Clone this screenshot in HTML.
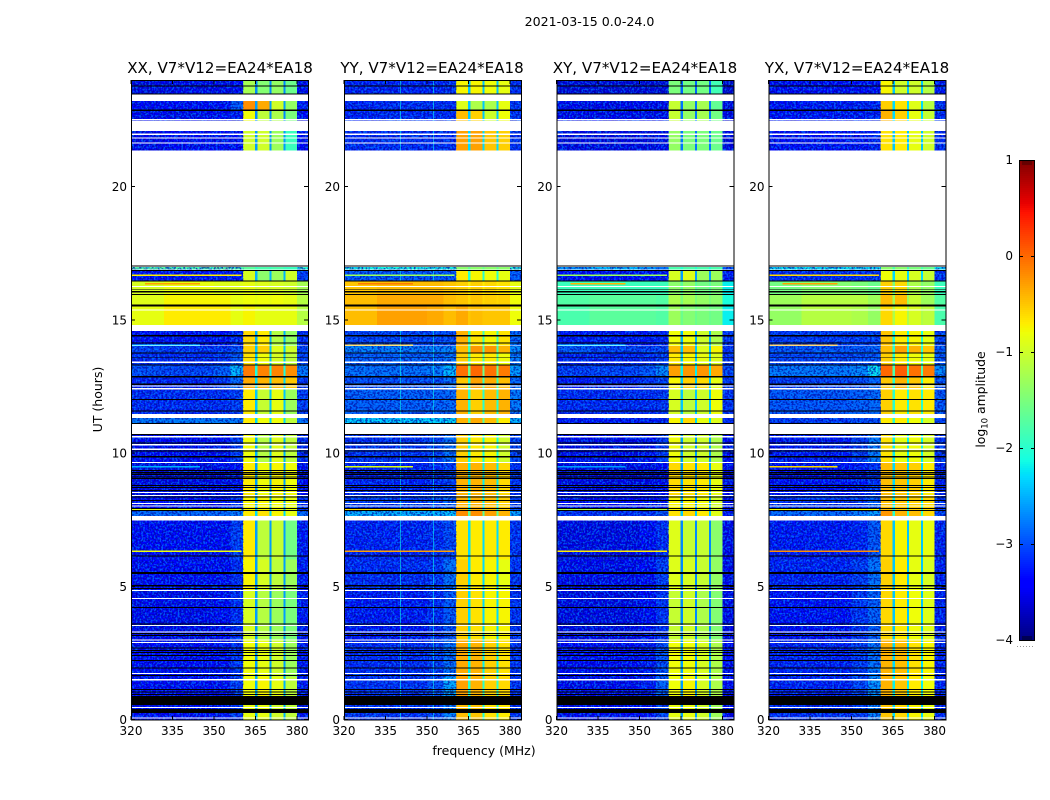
<!DOCTYPE html>
<html lang="en">
<head>
<meta charset="utf-8">
<title>2021-03-15 0.0-24.0</title>
<style>
html,body{margin:0;padding:0;background:#fff;width:1050px;height:800px;overflow:hidden}
svg{display:block}
text{font-family:"DejaVu Sans","Liberation Sans",sans-serif;fill:#000}
.tick{font-size:12px}
.title{font-size:15.1px;text-anchor:middle}
</style>
</head>
<body>
<svg id="figure" xmlns="http://www.w3.org/2000/svg" width="1050" height="800" viewBox="0 0 1050 800">
  <defs>
    <filter id="speckle-light" x="0" y="0" width="100%" height="100%" color-interpolation-filters="sRGB">
      <feTurbulence type="fractalNoise" baseFrequency="0.55 0.45" numOctaves="1" seed="4"/>
      <feColorMatrix type="matrix" values="0 0 0 0 0  0 0 0 0 0.55  0 0 0 0 1  0 0 0 9 -4.3"/>
    </filter>
    <filter id="speckle-dark" x="0" y="0" width="100%" height="100%" color-interpolation-filters="sRGB">
      <feTurbulence type="fractalNoise" baseFrequency="0.5 0.55" numOctaves="1" seed="11"/>
      <feColorMatrix type="matrix" values="0 0 0 0 0  0 0 0 0 0  0 0 0 0 0.6  0 0 0 9 -4.3"/>
    </filter>
  </defs>
  <text x="589.5" y="26" font-size="12.6" text-anchor="middle">2021-03-15 0.0-24.0</text>
  <g id="panel-0">
    <text class="title" x="220" y="73">XX, V7*V12=EA24*EA18</text>
  </g>
  <g id="panel-1">
    <text class="title" x="432" y="73">YY, V7*V12=EA24*EA18</text>
  </g>
  <g id="panel-2">
    <text class="title" x="645" y="73">XY, V7*V12=EA24*EA18</text>
  </g>
  <g id="panel-3">
    <text class="title" x="857" y="73">YX, V7*V12=EA24*EA18</text>
  </g>
  <text font-size="12.5" text-anchor="middle" transform="translate(102,399.5) rotate(-90)">UT (hours)</text>
  <text x="484" y="755" font-size="12.5" text-anchor="middle">frequency (MHz)</text>
  <g id="colorbar"></g>
  <text font-size="12.4" text-anchor="middle" transform="translate(985,399.5) rotate(-90)">log<tspan font-size="8.5" dy="2.5">10</tspan><tspan dy="-2.5"> amplitude</tspan></text>
</svg>
<script>
// ---- Categories: frequency channels (MHz) and which level column each uses
const freqEdges = [320, 332, 350, 356, 360.5, 364.9, 365.7, 370, 370.8, 375.2, 375.9, 380, 384];
const freqColumn = [0, 1, 2, 3, 4, 8, 5, 8, 6, 8, 7, 9];

// ---- Categories: scan blocks (UT hours)
const blockStart = [24, 23.2, 22.85, 22.08, 17.04, 16.86, 16.46, 15.96, 15.54, 14.58, 14.04, 13.78, 13.33, 12.86, 12.39, 11.31, 10.71, 9.66, 8.38, 7.84, 7.46, 6, 4.86, 3, 1.6, 0.54];
const blockEnd = [23.46, 22.85, 22.48, 21.36, 16.86, 16.46, 15.96, 15.54, 14.81, 14.04, 13.78, 13.33, 12.86, 12.39, 11.47, 11.09, 9.66, 8.38, 7.84, 7.46, 6, 4.86, 3, 1.6, 0.88, 0];
const loudBlocks = [6, 7, 8];

// ---- Series: log10 amplitude per block, columns: 320-332, 332-350, 350-356, 356-360.5, band1..band4, band gaps, 380-384
const levelsXX = [
[-3.55,-3.5,-3.5,-3.45,-1.25,-1.45,-1.35,-1.6,-2.7,-3.4],
[-3.45,-3.45,-3.35,-2.95,-0.2,-0.35,-1.0,-1.35,-2.6,-3.3],
[-3.5,-3.5,-3.45,-3.3,-0.8,-1.1,-1.2,-1.5,-2.7,-3.4],
[-3.5,-3.45,-3.45,-3.4,-1.0,-1.0,-1.3,-1.9,-2.6,-3.4],
[-1.7,-1.8,-1.7,-1.8,-1.7,-1.8,-1.8,-1.9,-1.9,-2.0],
[-3.35,-3.35,-3.3,-3.3,-0.95,-1.4,-1.3,-1.0,-2.5,-3.1],
[-0.95,-0.85,-0.9,-0.9,-0.85,-0.9,-0.95,-1.0,-1.0,-1.25],
[-0.9,-0.75,-0.75,-0.85,-0.8,-0.8,-0.8,-0.85,-0.85,-1.15],
[-0.85,-0.7,-0.7,-0.85,-0.75,-0.85,-0.85,-0.85,-0.85,-1.15],
[-3.35,-3.35,-3.35,-3.2,-0.6,-0.7,-1.15,-1.35,-2.5,-3.2],
[-3.05,-3.15,-3.15,-3.0,-0.55,-0.55,-0.9,-1.0,-2.4,-3.05],
[-3.2,-3.2,-3.15,-2.95,-0.65,-0.8,-0.95,-1.1,-2.4,-3.05],
[-3.0,-3.05,-2.9,-2.4,-0.1,-0.15,-0.15,-0.2,-2.1,-2.75],
[-3.25,-3.25,-3.15,-2.85,-0.35,-0.4,-0.45,-0.5,-2.3,-3.1],
[-3.2,-3.2,-3.2,-3.1,-0.7,-1.05,-0.85,-1.3,-2.4,-3.1],
[-2.75,-2.75,-2.75,-2.75,-0.7,-0.8,-0.8,-1.1,-2.3,-2.8],
[-3.4,-3.4,-3.35,-3.1,-0.8,-1.15,-0.9,-1.1,-2.5,-3.2],
[-3.55,-3.55,-3.5,-3.35,-0.7,-0.8,-0.75,-0.8,-2.6,-3.4],
[-3.4,-3.4,-3.35,-3.2,-0.75,-0.75,-0.8,-0.85,-2.5,-3.2],
[-2.85,-2.85,-2.85,-2.75,-0.7,-0.65,-0.75,-0.85,-2.3,-2.85],
[-3.45,-3.45,-3.4,-3.1,-0.7,-1.1,-1.05,-1.55,-2.6,-3.3],
[-3.4,-3.4,-3.4,-3.2,-0.75,-0.95,-1.1,-1.3,-2.6,-3.3],
[-3.5,-3.5,-3.4,-3.2,-0.95,-1.15,-1.3,-1.5,-2.6,-3.3],
[-3.45,-3.45,-3.35,-3.15,-0.8,-0.85,-1.0,-1.3,-2.6,-3.3],
[-3.45,-3.45,-3.4,-3.1,-0.8,-0.75,-0.85,-1.1,-2.5,-3.3],
[-3.4,-3.4,-3.3,-3.15,-0.85,-0.85,-1.0,-1.1,-2.5,-3.3]
];
const levelsYY = [
[-3.25,-3.25,-3.25,-3.2,-0.75,-0.75,-0.8,-0.85,-2.4,-3.15],
[-3.25,-3.2,-3.2,-3.2,-0.9,-1.2,-1.2,-0.85,-2.4,-3.15],
[-3.25,-3.2,-3.2,-3.2,-0.45,-0.55,-1.0,-0.8,-2.4,-3.15],
[-3.2,-3.2,-3.2,-3.2,-0.3,-0.3,-0.5,-0.55,-2.3,-3.15],
[-2.1,-2.1,-2.1,-2.1,-1.4,-1.4,-1.4,-1.4,-1.6,-2.0],
[-2.95,-2.95,-2.95,-2.95,-0.7,-0.75,-0.8,-0.85,-2.0,-2.95],
[-0.5,-0.45,-0.45,-0.5,-0.55,-0.55,-0.6,-0.65,-0.7,-0.85],
[-0.45,-0.35,-0.35,-0.45,-0.5,-0.5,-0.55,-0.55,-0.6,-0.8],
[-0.45,-0.3,-0.35,-0.45,-0.35,-0.45,-0.5,-0.5,-0.5,-0.8],
[-3.05,-3.05,-3.05,-3.0,-0.4,-0.65,-0.75,-0.65,-1.9,-2.85],
[-2.7,-2.75,-2.75,-2.7,-0.45,-0.25,-0.25,-0.4,-1.8,-2.65],
[-2.9,-2.9,-2.9,-2.8,-0.55,-0.7,-0.7,-0.8,-1.8,-2.75],
[-2.8,-2.8,-2.75,-2.4,-0.05,0,-0.05,-0.1,-1.6,-2.55],
[-3.0,-3.0,-3.0,-2.8,-0.5,-0.3,-0.35,-0.45,-1.9,-2.85],
[-2.9,-2.9,-2.9,-2.85,-0.4,-0.55,-0.45,-0.4,-2.0,-2.75],
[-2.3,-2.3,-2.3,-2.25,-0.4,-0.35,-0.45,-0.7,-1.7,-2.4],
[-3.15,-3.15,-3.05,-2.8,-0.55,-0.7,-0.75,-1.0,-2.1,-3.05],
[-3.25,-3.25,-3.2,-3.1,-0.4,-0.4,-0.45,-0.6,-2.2,-3.15],
[-3.1,-3.1,-3.05,-2.9,-0.4,-0.4,-0.45,-0.55,-2.2,-3.05],
[-2.45,-2.45,-2.45,-2.35,-0.2,-0.2,-0.3,-0.4,-1.7,-2.5],
[-3.25,-3.25,-3.2,-3.05,-0.65,-0.7,-0.7,-0.7,-2.3,-3.15],
[-3.2,-3.2,-3.15,-2.8,-0.55,-0.7,-0.75,-0.85,-2.3,-3.15],
[-3.3,-3.3,-3.2,-2.95,-0.55,-0.65,-0.75,-0.75,-2.3,-3.15],
[-3.2,-3.2,-3.1,-2.8,-0.35,-0.4,-0.55,-0.65,-2.2,-3.15],
[-3.15,-3.15,-3.0,-2.5,-0.3,-0.4,-0.55,-0.6,-2.0,-3.15],
[-3.15,-3.15,-3.05,-2.7,-0.45,-0.5,-0.65,-0.7,-2.1,-3.15]
];
const levelsXY = [
[-3.6,-3.6,-3.6,-3.6,-1.5,-1.55,-1.55,-1.85,-2.9,-3.65],
[-3.5,-3.5,-3.5,-3.5,-1.05,-1.35,-1.25,-1.65,-2.8,-3.55],
[-3.5,-3.5,-3.5,-3.5,-1.05,-1.35,-1.25,-1.55,-2.8,-3.55],
[-3.55,-3.55,-3.55,-3.5,-1.35,-1.5,-1.5,-1.6,-2.8,-3.55],
[-2.6,-2.4,-2.6,-2.8,-1.8,-1.8,-1.8,-1.8,-2.0,-3.0],
[-3.4,-3.4,-3.4,-3.4,-0.95,-0.9,-1.3,-1.3,-2.6,-3.3],
[-1.9,-1.9,-1.9,-1.9,-1.4,-1.35,-1.55,-1.5,-1.7,-2.2],
[-1.75,-1.7,-1.7,-1.75,-1.2,-1.25,-1.35,-1.4,-1.5,-2.1],
[-1.8,-1.7,-1.7,-1.75,-1.3,-1.45,-1.5,-1.55,-1.6,-2.2],
[-3.3,-3.3,-3.3,-3.25,-0.8,-0.8,-1.0,-1.2,-2.5,-3.15],
[-2.95,-3.05,-3.1,-3.05,-0.45,-0.45,-0.9,-0.75,-2.4,-3.15],
[-3.25,-3.25,-3.2,-3.1,-0.7,-0.75,-0.85,-0.9,-2.4,-3.15],
[-3.1,-3.05,-2.95,-2.65,-0.3,-0.25,-0.25,-0.35,-2.2,-3.05],
[-3.3,-3.25,-3.15,-3.05,-0.75,-0.55,-0.6,-0.85,-2.4,-3.15],
[-3.2,-3.2,-3.2,-3.15,-0.95,-1.1,-1.0,-0.8,-2.4,-3.15],
[-3.3,-3.3,-3.3,-3.25,-0.75,-0.6,-0.85,-0.9,-2.3,-3.2],
[-3.5,-3.5,-3.35,-3.1,-0.8,-1.0,-1.0,-1.2,-2.6,-3.4],
[-3.55,-3.55,-3.55,-3.45,-0.6,-0.65,-0.7,-0.85,-2.6,-3.5],
[-3.4,-3.4,-3.4,-3.3,-0.75,-0.75,-0.8,-1.0,-2.6,-3.4],
[-3.15,-3.15,-3.15,-2.95,-0.65,-0.6,-0.7,-0.9,-2.4,-3.3],
[-3.55,-3.55,-3.45,-3.2,-0.9,-1.05,-1.05,-1.4,-2.7,-3.5],
[-3.5,-3.5,-3.4,-3.1,-0.9,-0.95,-1.05,-1.35,-2.7,-3.5],
[-3.55,-3.55,-3.4,-3.15,-1.05,-1.0,-1.2,-1.45,-2.7,-3.5],
[-3.45,-3.45,-3.3,-3.0,-0.8,-0.8,-0.95,-1.2,-2.6,-3.4],
[-3.5,-3.5,-3.3,-2.9,-0.8,-0.75,-0.95,-1.2,-2.6,-3.4],
[-3.45,-3.45,-3.35,-3.05,-0.85,-0.85,-1.0,-1.3,-2.6,-3.4]
];
const levelsYX = [
[-3.4,-3.4,-3.4,-3.35,-0.75,-1.0,-1.0,-1.15,-2.4,-3.3],
[-3.35,-3.3,-3.25,-3.25,-0.55,-0.65,-0.9,-1.15,-2.3,-3.2],
[-3.35,-3.3,-3.3,-3.25,-0.4,-0.55,-0.85,-1.05,-2.3,-3.2],
[-3.35,-3.35,-3.35,-3.25,-0.65,-0.7,-0.85,-1.0,-2.4,-3.2],
[-2.2,-2.2,-2.2,-2.2,-1.4,-1.4,-1.5,-1.6,-1.8,-2.2],
[-3.2,-3.2,-3.2,-3.15,-0.8,-0.85,-0.95,-1.05,-2.3,-3.15],
[-1.55,-1.45,-1.5,-1.6,-0.55,-0.6,-1.2,-1.35,-1.5,-1.9],
[-1.3,-1.15,-1.15,-1.3,-0.45,-0.45,-1.05,-1.3,-1.3,-1.75],
[-1.35,-1.15,-1.2,-1.35,-0.6,-0.75,-0.95,-1.1,-1.2,-1.8],
[-3.1,-3.1,-3.1,-3.05,-0.5,-0.7,-0.75,-0.85,-2.1,-3.05],
[-2.95,-2.95,-2.95,-2.9,-0.45,-0.3,-0.4,-0.5,-2.0,-2.95],
[-3.05,-3.05,-3.0,-2.95,-0.55,-0.7,-0.8,-0.85,-2.0,-2.95],
[-2.75,-2.75,-2.65,-2.2,0.0,0.05,-0.05,-0.1,-1.8,-2.65],
[-3.1,-3.05,-3.0,-2.9,-0.5,-0.4,-0.5,-0.7,-2.0,-2.95],
[-2.95,-2.95,-2.9,-2.85,-0.55,-0.7,-0.65,-0.7,-2.0,-2.95],
[-3.1,-3.1,-3.05,-3.0,-0.7,-0.7,-0.8,-0.95,-2.0,-3.05],
[-3.3,-3.3,-3.1,-2.75,-0.65,-0.85,-0.8,-0.95,-2.2,-3.15],
[-3.35,-3.35,-3.3,-3.15,-0.45,-0.5,-0.55,-0.7,-2.3,-3.25],
[-3.15,-3.15,-3.1,-2.9,-0.45,-0.5,-0.55,-0.6,-2.2,-3.15],
[-2.85,-2.85,-2.75,-2.55,-0.25,-0.4,-0.45,-0.6,-2.0,-3.05],
[-3.3,-3.3,-3.25,-2.95,-0.6,-0.75,-0.85,-0.85,-2.4,-3.25],
[-3.25,-3.25,-3.1,-2.8,-0.55,-0.7,-0.85,-0.95,-2.4,-3.25],
[-3.35,-3.35,-3.15,-2.9,-0.6,-0.7,-0.8,-0.9,-2.4,-3.25],
[-3.25,-3.25,-3.1,-2.8,-0.4,-0.45,-0.65,-0.75,-2.3,-3.25],
[-3.25,-3.25,-3.05,-2.6,-0.4,-0.5,-0.7,-0.8,-2.2,-3.25],
[-3.2,-3.2,-3.1,-2.7,-0.5,-0.6,-0.75,-0.85,-2.3,-3.25]
];

// ---- Series: narrow interference rows (UT hours, MHz span, log10 amplitude per polarisation)
const rfiUt = [16.67, 16.35, 14.04, 9.48, 7.9, 6.32];
const rfiFromMHz = [320, 325, 320, 320, 320, 320];
const rfiToMHz = [360, 345, 345, 345, 360, 360];
const rfiXX = [-0.7, -0.3, -2.3, -2.5, -0.9, -0.8];
const rfiYY = [-1.3, -0.1, -0.5, -0.9, -0.6, -0.3];
const rfiXY = [-1.3, -0.4, -2.3, -2.6, -1.2, -0.7];
const rfiYX = [-0.6, -0.3, -0.4, -0.6, -0.8, -0.2];

// ---- Series: persistent channels seen in YY only (MHz), one level
const spikeMHzYY = [340.2, 352.2];
const spikeLevelYY = [-2.2, -2.2];

// ---- Flags: no-data (white) rows, UT hours [from, to]
const whiteFrom = [23.46, 22.53, 22.48, 21.98, 21.84, 21.66, 21.36, 17.0, 16.88, 16.26, 15.38, 14.81, 14.04, 13.43, 12.54, 12.44, 11.47, 11.09, 10.63, 10.33, 10.16, 9.66, 8.53, 8.43, 8.12, 8.03, 7.63, 4.86, 4.56, 3.54, 3.3, 3.0, 2.91, 1.74, 1.52, 0.47, 0.075];
const whiteTo = [23.2, 22.5, 22.08, 21.93, 21.8, 21.62, 17.04, 16.98, 16.86, 16.22, 15.34, 14.58, 14.01, 13.38, 12.5, 12.39, 11.31, 10.71, 10.59, 10.29, 10.11, 9.62, 8.49, 8.38, 8.08, 8.0, 7.46, 4.82, 4.52, 3.51, 3.26, 2.96, 2.87, 1.71, 1.46, 0.43, 0.04];
// ---- Flags: zero-amplitude (black) rows, UT hours [from, to]
const blackFrom = [23.79, 23.49, 22.88, 17.04, 16.86, 16.48, 16.16, 16.07, 15.96, 15.58, 15.53, 14.42, 14.14, 13.78, 13.61, 13.33, 12.88, 12.6, 12.02, 11.6, 11.12, 10.71, 10.39, 10.09, 9.88, 9.36, 9.28, 9.21, 9.11, 9.06, 8.79, 8.72, 8.61, 8.36, 8.23, 7.93, 7.86, 6.15, 5.53, 5.04, 4.93, 4.22, 3.6, 3.24, 3.17, 2.7, 2.61, 2.53, 2.42, 2.23, 1.95, 1.67, 1.14, 1.05, 0.96, 0.88, 0.39];
const blackTo = [23.76, 23.46, 22.84, 17.0, 16.82, 16.44, 16.13, 16.03, 15.92, 15.54, 15.49, 14.38, 14.1, 13.74, 13.58, 13.29, 12.84, 12.56, 11.98, 11.56, 11.09, 10.67, 10.35, 10.05, 9.84, 9.32, 9.24, 9.17, 9.08, 9.02, 8.76, 8.68, 8.57, 8.33, 8.19, 7.89, 7.82, 6.11, 5.46, 5.0, 4.89, 4.18, 3.56, 3.21, 3.13, 2.66, 2.57, 2.49, 2.38, 2.19, 1.91, 1.63, 1.11, 1.01, 0.92, 0.54, 0.25];

// ---- Tick labels
const freqTicks = [320, 335, 350, 365, 380];
const utTicks = [0, 5, 10, 15, 20];
const colorbarTicks = [1, 0, -1, -2, -3, -4];
const colorbarMinorStubs = [1023, 1025, 1027, 1029, 1031];

// ---- Axis functions
const svgNS = 'http://www.w3.org/2000/svg';
const panelLeft = [131, 344, 556.5, 768.5];
const panelWidth = 177;
function freqX(panel, mhz) { return panelLeft[panel] + (mhz - 320) * 2.767; }
function utY(ut) { return 719.5 - ut * 26.65; }
function ampY(v) { return 640 - (v + 4) * 96; }
function ramp(t, pts) {
  for (let i = 1; i < pts.length; i++) {
    if (t <= pts[i][0]) {
      const a = pts[i - 1], b = pts[i];
      return a[1] + (b[1] - a[1]) * (t - a[0]) / (b[0] - a[0]);
    }
  }
  return pts[pts.length - 1][1];
}
function jet(v) {
  const t = Math.min(1, Math.max(0, (v + 4) / 5));
  const r = ramp(t, [[0,0],[0.35,0],[0.66,1],[0.89,1],[1,0.5]]);
  const g = ramp(t, [[0,0],[0.125,0],[0.375,1],[0.64,1],[0.91,0],[1,0]]);
  const b = ramp(t, [[0,0.5],[0.11,1],[0.34,1],[0.65,0],[1,0]]);
  return 'rgb(' + Math.round(r * 255) + ',' + Math.round(g * 255) + ',' + Math.round(b * 255) + ')';
}
function make(tag, parent, attrs) {
  const node = document.createElementNS(svgNS, tag);
  for (const k in attrs) node.setAttribute(k, attrs[k]);
  parent.appendChild(node);
  return node;
}
function band(parent, x0, x1, y0, y1, fill) {
  return make('rect', parent, { x: x0, y: y0, width: Math.max(0.5, x1 - x0), height: Math.max(0.5, y1 - y0), fill: fill, 'shape-rendering': 'crispEdges' });
}

const panelLevels = [levelsXX, levelsYY, levelsXY, levelsYX];
const panelRfi = [rfiXX, rfiYY, rfiXY, rfiYX];

function drawCells(group, p, levels, b) {
  for (let c = 0; c < freqColumn.length; c++) {
    const cell = band(group, freqX(p, freqEdges[c]), freqX(p, freqEdges[c + 1]), utY(blockStart[b]), utY(blockEnd[b]), jet(levels[b][freqColumn[c]]));
    
    
  }
}

for (let p = 0; p < 4; p++) {
  const group = document.getElementById('panel-' + p);
  const levels = panelLevels[p];
  const left = panelLeft[p], right = left + panelWidth;

  for (let b = 0; b < blockStart.length; b++) {
    if (!loudBlocks.includes(b)) drawCells(group, p, levels, b);
  }

  // Fine speckle in the quiet channels (visual texture only, not read from data)
  for (const f of ['speckle-light', 'speckle-dark']) {
    const noiseLow = make('rect', group, { x: left, y: 80, width: freqX(p, 360.5) - left, height: 640, filter: 'url(#' + f + ')', opacity: 0.6 });
    
    
    const noiseHigh = make('rect', group, { x: freqX(p, 380), y: 80, width: right - freqX(p, 380), height: 640, filter: 'url(#' + f + ')', opacity: 0.6 });
    
    
  }

  for (const b of loudBlocks) drawCells(group, p, levels, b);

  if (p === 1) {
    for (let s = 0; s < spikeMHzYY.length; s++) {
      for (let b = 0; b < blockStart.length; b++) {
        if (loudBlocks.includes(b)) continue;
        const spike = band(group, freqX(p, spikeMHzYY[s]), freqX(p, spikeMHzYY[s]) + 1, utY(blockStart[b]), utY(blockEnd[b]), jet(spikeLevelYY[s]));
        spike.setAttribute('opacity', '0.6');
        
        
      }
    }
  }

  for (let r = 0; r < rfiUt.length; r++) {
    const line = band(group, freqX(p, rfiFromMHz[r]), freqX(p, rfiToMHz[r]), utY(rfiUt[r] + 0.03), utY(rfiUt[r] - 0.03), jet(panelRfi[p][r]));
    
    
  }

  for (let i = 0; i < whiteFrom.length; i++) {
    const flag = band(group, left, right, utY(whiteFrom[i]), utY(whiteTo[i]), '#ffffff');
    
    
  }
  for (let i = 0; i < blackFrom.length; i++) {
    const flag = band(group, left, right, utY(blackFrom[i]), utY(blackTo[i]), '#000000');
    
    
  }

  const frame = make('rect', group, { x: left + 0.5, y: 80.5, width: panelWidth, height: 639.5, fill: 'none', stroke: '#000', 'stroke-width': 1, 'shape-rendering': 'crispEdges' });
  
  

  for (const mhz of freqTicks) {
    const x = freqX(p, mhz);
    const low = make('line', group, { x1: x, x2: x, y1: 720, y2: 716, stroke: '#000', 'shape-rendering': 'crispEdges' });
    
    
    const high = make('line', group, { x1: x, x2: x, y1: 80, y2: 84, stroke: '#000', 'shape-rendering': 'crispEdges' });
    
    
    const label = make('text', group, { x: x, y: 735, 'text-anchor': 'middle', class: 'tick' });
    label.textContent = mhz;
    
    
  }
  for (const ut of utTicks) {
    const y = utY(ut);
    const l = make('line', group, { x1: left, x2: left + 4, y1: y, y2: y, stroke: '#000', 'shape-rendering': 'crispEdges' });
    
    
    const r = make('line', group, { x1: right, x2: right - 4, y1: y, y2: y, stroke: '#000', 'shape-rendering': 'crispEdges' });
    
    
    const label = make('text', group, { x: left - 4, y: y + 4.5, 'text-anchor': 'end', class: 'tick' });
    label.textContent = ut;
    
    
  }
}

// ---- Colorbar
const cb = document.getElementById('colorbar');
for (let i = 0; i < 240; i++) {
  const v = -4 + (i + 0.5) / 48;
  const swatch = band(cb, 1019, 1035, ampY(v) - 1.2, ampY(v) + 1.2, jet(v));
  
  
}
const cbFrame = make('rect', cb, { x: 1019.5, y: 160.5, width: 15, height: 480, fill: 'none', stroke: '#000', 'shape-rendering': 'crispEdges' });


for (const v of colorbarTicks) {
  const y = Math.round(ampY(v)) + 0.5;
  const a = make('line', cb, { x1: 1019, x2: 1023, y1: y, y2: y, stroke: '#000', 'shape-rendering': 'crispEdges' });
  
  
  const b = make('line', cb, { x1: 1035, x2: 1031, y1: y, y2: y, stroke: '#000', 'shape-rendering': 'crispEdges' });
  
  
  const label = make('text', cb, { x: 1013, y: ampY(v) + 4, 'text-anchor': 'end', class: 'tick', 'font-size': '11' });
  label.textContent = String(v).replace('-', '\u2212');
  
  
}
for (const x of colorbarMinorStubs) {
  const top = make('line', cb, { x1: x, x2: x, y1: 161, y2: 165, stroke: '#400', 'shape-rendering': 'crispEdges' });
  
  
  const bottom = make('line', cb, { x1: x, x2: x, y1: 636, y2: 640, stroke: '#002', 'shape-rendering': 'crispEdges' });
  
  
}
const dots = make('line', cb, { x1: 1017, x2: 1035, y1: 646.5, y2: 646.5, stroke: '#999', 'stroke-dasharray': '1 2', 'shape-rendering': 'crispEdges' });


</script>
</body>
</html>
